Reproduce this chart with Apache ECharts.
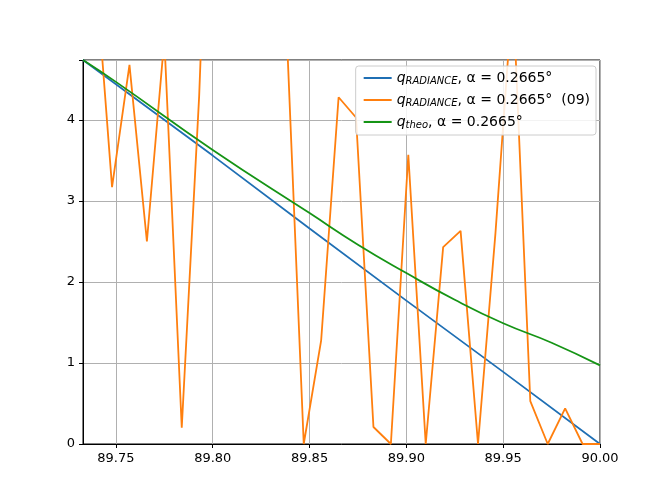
<!DOCTYPE html>
<html><head><meta charset="utf-8">
<script src="https://cdn.jsdelivr.net/npm/echarts@6/dist/echarts.min.js"></script>
<style>html,body{margin:0;background:#fff}#c{width:666px;height:500px}</style>
</head><body><div id="c"></div>
<script>
const xTicks = [89.75, 89.80, 89.85, 89.90, 89.95, 90.00];
const yTicks = [0, 1, 2, 3, 4];
const blueX = [89.733, 89.80, 89.85, 89.90, 89.95, 90.00];
const blueY = [4.74, 3.56, 2.66, 1.77, 0.89, 0];
const greenX = [89.733, 89.75, 89.80, 89.85, 89.875, 89.90, 89.925, 89.95, 89.975, 90.00];
const greenY = [4.74, 4.47, 3.63, 2.85, 2.46, 2.11, 1.78, 1.49, 1.25, 0.97];
const orangeX = [89.730, 89.739, 89.748, 89.757, 89.766, 89.775, 89.784, 89.793, 89.802, 89.811, 89.820, 89.829, 89.838, 89.847, 89.856, 89.865, 89.874, 89.883, 89.892, 89.901, 89.910, 89.919, 89.928, 89.937, 89.946, 89.955, 89.964, 89.973, 89.982, 89.991, 90.000];
const orangeY = [5.0, 6.0, 3.17, 4.68, 2.5, 5.0, 0.2, 4.3, 10, 12, 15, 10, 5.2, 0, 1.28, 4.28, 4.03, 0.21, 0, 3.57, 0, 2.43, 2.63, 0, 2.6, 5.6, 0.53, 0, 0.44, 0, 0];
const names = ['{i|q}{s|RADIANCE}{n|, α = 0.2665°}', '{i|q}{s|RADIANCE}{n|, α = 0.2665°  (09)}', '{i|q}{s|theo}{n|, α = 0.2665°}'];
const zip = (a, b) => a.map((v, i) => [v, b[i]]);
const ch = echarts.init(document.getElementById('c'));
ch.setOption({
  animation: false,
  grid: {left: 83, right: 66, top: 60, bottom: 56, show: true, borderColor: '#000', borderWidth: 1},
  legend: {
    right: 70, top: 66, orient: 'vertical', itemWidth: 28, itemHeight: 2, itemGap: 7,
    backgroundColor: 'rgba(255,255,255,0.85)', borderColor: '#ccc', borderWidth: 1, borderRadius: 3, padding: [5, 6, 5, 8],
    icon: 'rect',
    textStyle: {fontFamily: 'DejaVu Sans', fontSize: 14, color: '#000', rich: {
      i: {fontFamily: 'DejaVu Sans', fontStyle: 'italic', fontSize: 14},
      s: {fontFamily: 'DejaVu Sans', fontStyle: 'italic', fontSize: 10, verticalAlign: 'bottom', padding: [6, 0, 0, 0]},
      n: {fontFamily: 'DejaVu Sans', fontSize: 14}
    }}
  },
  xAxis: {
    type: 'value', min: 89.733, max: 90,
    axisLine: {lineStyle: {color: '#000'}},
    axisTick: {customValues: xTicks, inside: false, length: 4, lineStyle: {color: '#000'}},
    axisLabel: {customValues: xTicks, formatter: v => v.toFixed(2), color: '#000', fontSize: 13, fontFamily: 'DejaVu Sans'},
    splitLine: {show: true, lineStyle: {color: '#b0b0b0'}}
  },
  yAxis: {
    type: 'value', min: 0, max: 4.74, interval: 1,
    axisLine: {show: true, lineStyle: {color: '#000'}},
    axisTick: {show: true, length: 4, lineStyle: {color: '#000'}},
    axisLabel: {color: '#000', fontSize: 13, fontFamily: 'DejaVu Sans', formatter: v => yTicks.includes(v) ? String(v) : ''},
    splitLine: {show: true, lineStyle: {color: '#b0b0b0'}}
  },
  series: [
    {name: names[0], type: 'line', data: zip(blueX, blueY), showSymbol: false, clip: true, color: '#1f6fb4', lineStyle: {width: 1.8}},
    {name: names[1], type: 'line', data: zip(orangeX, orangeY), showSymbol: false, clip: true, color: '#ff7f0e', lineStyle: {width: 1.8}},
    {name: names[2], type: 'line', data: zip(greenX, greenY), smooth: true, showSymbol: false, clip: true, color: '#159415', lineStyle: {width: 1.8}}
  ]
});
</script></body></html>
